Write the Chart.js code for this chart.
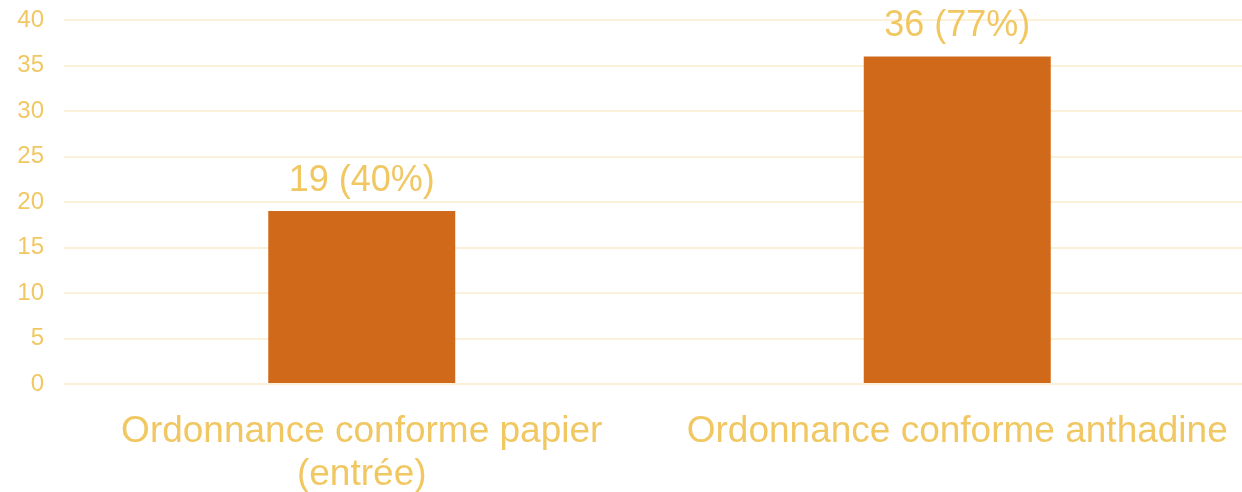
<!DOCTYPE html>
<html>
<head>
<meta charset="utf-8">
<script src="https://cdn.jsdelivr.net/npm/chart.js@4"></script>
<style>
html,body{margin:0;padding:0;background:#fff;overflow:hidden;width:1242px;height:492px;}
#wrap{width:1242px;height:492px;overflow:hidden;}
canvas{display:block;}
</style>
</head>
<body>
<div id="wrap"><canvas id="c" width="1255" height="492"></canvas></div>
<script>
const categories = [["Ordonnance conforme papier", "(entrée)"], "Ordonnance conforme anthadine"];
const counts = [19, 36];
const percents = [40, 77];
const yTicks = [0, 5, 10, 15, 20, 25, 30, 35, 40];

const GOLD = '#F1C762';
const BAR = '#D06A1A';
const GRID = '#FDF0DA';
const FONT = '"Liberation Sans", Arial, sans-serif';

const valueLabels = {
  id: 'valueLabels',
  afterDatasetsDraw(chart) {
    const ctx = chart.ctx;
    const meta = chart.getDatasetMeta(0);
    ctx.save();
    ctx.font = '36px ' + FONT;
    ctx.fillStyle = GOLD;
    ctx.textAlign = 'center';
    ctx.textBaseline = 'alphabetic';
    meta.data.forEach((bar, i) => {
      ctx.fillText(counts[i] + ' (' + percents[i] + '%)', bar.x, bar.y - 20);
    });
    ctx.restore();
  }
};

new Chart(document.getElementById('c'), {
  type: 'bar',
  data: {
    labels: categories,
    datasets: [{
      data: counts,
      backgroundColor: BAR,
      borderWidth: 0,
      barPercentage: 0.314,
      categoryPercentage: 1.0
    }]
  },
  options: {
    responsive: false,
    animation: false,
    devicePixelRatio: 1,
    layout: { padding: { top: 20, left: 0, right: 0, bottom: 0 } },
    plugins: { legend: { display: false }, tooltip: { enabled: false } },
    scales: {
      y: {
        min: 0, max: 40,
        afterBuildTicks(s) { s.ticks = yTicks.map(v => ({ value: v })); },
        afterFit(s) { s.width = 64; s.paddingTop = 0; s.paddingBottom = 0; },
        border: { display: false },
        grid: { color: GRID, lineWidth: 2, drawTicks: false },
        ticks: { color: GOLD, font: { family: FONT, size: 24 }, padding: 20 }
      },
      x: {
        afterFit(s) { s.height = 108; s.paddingLeft = 0; s.paddingRight = 0; },
        border: { display: false },
        grid: { display: false, drawTicks: false },
        ticks: { color: GOLD, font: { family: FONT, size: 37, lineHeight: 1.15 }, padding: 27, maxRotation: 0, autoSkip: false }
      }
    }
  },
  plugins: [valueLabels]
});
</script>
</body>
</html>
